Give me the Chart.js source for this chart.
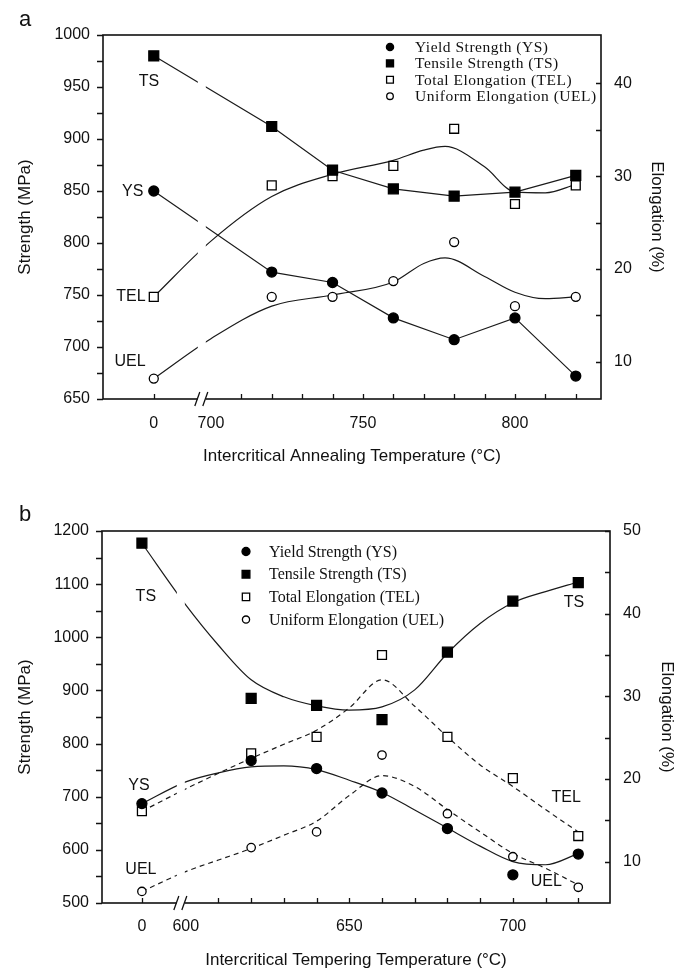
<!DOCTYPE html>
<html>
<head>
<meta charset="utf-8">
<script src="https://cdn.jsdelivr.net/npm/chart.js@4.4.1/dist/chart.umd.min.js"></script>
<style>
  body { margin: 0; background: #fff; }
  #wrap { position: relative; width: 683px; height: 971px; overflow: hidden; }
  canvas { position: absolute; left: 0; }
  #ca { top: 0; }
  #cb { top: 485px; }
</style>
</head>
<body>
<div id="wrap">
  <canvas id="ca" width="683" height="480"></canvas>
  <canvas id="cb" width="683" height="486"></canvas>
</div>
<script>
// (a) intercritical annealing -- temperature 0 is the starting state, drawn left of the axis break
var tempsA = [0, 720, 740, 760, 780, 800, 820];
var ysA  = [850, 772, 762, 728, 707, 728, 672];
var tsA  = [980, 912, 870, 852, 845, 849, 865];
var telA = [17.0, 29.0, 30.0, 31.1, 35.1, 27.0, 29.0];
var uelA = [8.2, 17.0, 17.0, 18.7, 22.9, 16.0, 17.0];
// smooth curves as drawn through the elongation data
var fitTempsA = [0, 700, 720, 740, 760, 770, 777, 790, 800, 810, 820];
var telFitA = [17.0, 23.0, 27.8, 30.2, 31.7, 32.8, 33.2, 31.0, 28.3, 28.2, 29.1];
var uelFitA = [8.2, 12.5, 16.0, 17.2, 18.6, 20.6, 21.2, 19.2, 17.5, 16.8, 17.0];

// (b) intercritical tempering
var tempsB = [0, 620, 640, 660, 680, 700, 720];
var ysB  = [687, 768, 753, 707, 640, 553, 592];
var tsB  = [1177, 885, 872, 845, 972, 1068, 1103];
var telB = [16.1, 23.1, 25.1, 35.0, 25.1, 20.1, 13.1];
var uelB = [6.4, 11.7, 13.6, 22.9, 15.8, 10.6, 6.9];
var fitTempsB = [0, 600, 610, 620, 630, 640, 650, 660, 670, 680, 690, 700, 710, 720];
var tsFitB  = [1177, 1061, 985, 920, 888, 871, 863, 869, 901, 970, 1026, 1065, 1086, 1104];
var ysFitB  = [687, 728, 745, 756, 758, 751, 731, 708, 675, 641, 607, 578, 572, 593];
var telFitB = [16.1, 18.8, 20.7, 22.5, 24.2, 25.9, 28.6, 32.0, 28.8, 25.1, 21.7, 19.1, 16.3, 13.6];
var uelFitB = [6.4, 8.8, 10.2, 11.6, 13.2, 14.9, 18.0, 20.4, 19.1, 16.3, 13.6, 11.0, 9.2, 7.2];

// tick labels
var xLabelsA = ['0', '700', '750', '800'];
var xLabelsB = ['0', '600', '650', '700'];

var SANS = '"Liberation Sans", Arial, sans-serif';
var SERIF = '"Liberation Serif", "Times New Roman", serif';
var INK = '#111';

Chart.defaults.font.family = SANS;
Chart.defaults.color = INK;

function place(t, zero) { return t === 0 ? zero : t; }
function pts(temps, vals, zero) {
  return temps.map(function (t, i) { return { x: place(t, zero), y: vals[i] }; });
}

function marks(label, data, axis, style, r, filled, legendR) {
  return {
    label: label, data: data, yAxisID: axis, showLine: false,
    pointStyle: style, pointRadius: r, pointHoverRadius: r,
    pointBackgroundColor: filled ? '#000' : '#fff', backgroundColor: filled ? '#000' : '#fff',
    pointBorderColor: '#000', borderColor: '#000', pointBorderWidth: 1.3,
    legendR: legendR, inLegend: true
  };
}
function curve(data, axis, smooth, dash) {
  return {
    data: data, yAxisID: axis, showLine: true, pointRadius: 0, pointHoverRadius: 0,
    borderColor: '#1a1a1a', borderWidth: 1.2, borderDash: dash || [],
    tension: 0, cubicInterpolationMode: smooth ? 'monotone' : 'default'
  };
}

function decor(cfg) {
  return {
    id: 'decor',
    afterDatasetsDraw: function (chart) {
      var ctx = chart.ctx, a = chart.chartArea;
      var xs = chart.scales.x, yl = chart.scales.y, yr = chart.scales.y2;
      ctx.save();
      ctx.strokeStyle = INK;
      ctx.lineWidth = 1.6;
      ctx.strokeRect(a.left, a.top, a.right - a.left, a.bottom - a.top);

      ctx.lineWidth = 1.3;
      ctx.beginPath();
      xs.ticks.forEach(function (t) {
        if (t.value === cfg.skipTick) return;
        var px = Math.round(xs.getPixelForValue(t.value)) + 0.5;
        ctx.moveTo(px, a.bottom); ctx.lineTo(px, a.bottom - 5);
      });
      yl.ticks.forEach(function (t) {
        var py = Math.round(yl.getPixelForValue(t.value)) + 0.5;
        ctx.moveTo(a.left, py); ctx.lineTo(a.left - 6, py);
      });
      yr.ticks.forEach(function (t) {
        var py = Math.round(yr.getPixelForValue(t.value)) + 0.5;
        ctx.moveTo(a.right, py); ctx.lineTo(a.right - 5, py);
      });
      ctx.stroke();

      // axis break
      var bx = xs.getPixelForValue(cfg.breakAt);
      ctx.fillStyle = '#fff';
      ctx.fillRect(bx - 4, a.top + 1.5, 8, a.bottom - a.top + 1);
      ctx.beginPath();
      ctx.moveTo(bx - 7, a.bottom + 7); ctx.lineTo(bx - 2, a.bottom - 7);
      ctx.moveTo(bx + 1, a.bottom + 7); ctx.lineTo(bx + 6, a.bottom - 7);
      ctx.stroke();

      // curve names
      ctx.fillStyle = INK;
      ctx.font = '16px ' + SANS;
      ctx.textAlign = 'center';
      ctx.textBaseline = 'middle';
      cfg.notes.forEach(function (n) {
        ctx.fillText(n.text, xs.getPixelForValue(n.x), yl.getPixelForValue(n.y));
      });

      // legend
      var L = cfg.legend, row = 0;
      ctx.font = L.size + 'px ' + SERIF;
      ctx.textAlign = 'left';
      if ('letterSpacing' in ctx) ctx.letterSpacing = L.spacing + 'px';
      chart.data.datasets.forEach(function (d) {
        if (!d.inLegend) return;
        var mx = a.left + L.dx, my = a.top + L.dy + row * L.gap;
        ctx.fillStyle = d.pointBackgroundColor;
        ctx.strokeStyle = '#000';
        ctx.lineWidth = 1.3;
        Chart.helpers.drawPoint(ctx, { pointStyle: d.pointStyle, radius: d.legendR, rotation: 0, borderWidth: 1.3 }, mx, my);
        ctx.fillStyle = INK;
        ctx.fillText(d.label, mx + L.textGap, my + 1);
        row++;
      });
      if ('letterSpacing' in ctx) ctx.letterSpacing = '0px';

      // panel letter
      ctx.font = '22px ' + SANS;
      ctx.textAlign = 'center';
      ctx.fillText(cfg.letter, cfg.letterX, cfg.letterY);
      ctx.restore();
    }
  };
}

function build(id, o) {
  var tickFont = { size: 16 };
  var titleFont = { size: 17 };
  return new Chart(document.getElementById(id), {
    type: 'scatter',
    data: { datasets: o.datasets },
    options: {
      responsive: false, animation: false, events: [], devicePixelRatio: 1,
      layout: { padding: { top: o.padTop, left: 0, right: 0, bottom: 0 } },
      plugins: { legend: { display: false }, tooltip: { enabled: false } },
      scales: {
        x: {
          type: 'linear', min: o.xMin, max: o.xMax,
          afterBuildTicks: function (s) { s.ticks = o.xTicks.map(function (v) { return { value: v }; }); },
          afterFit: function (s) { s.height = o.xHeight; },
          grid: { display: false, drawTicks: false }, border: { display: false },
          ticks: {
            autoSkip: false, maxRotation: 0, padding: o.xPad, font: tickFont, color: INK,
            callback: function (v) {
              if (v === o.zero) return o.xLabels[0];
              var s = String(v);
              return o.xLabels.indexOf(s) > 0 ? s : '';
            }
          },
          title: { display: true, text: o.xTitle, font: titleFont, color: INK, padding: { top: 0, bottom: o.xTitlePad } }
        },
        y: {
          position: 'left', min: o.yMin, max: o.yMax,
          afterBuildTicks: function (s) { s.ticks = o.yTicks.map(function (v) { return { value: v }; }); },
          afterFit: function (s) { s.width = o.leftW; },
          grid: { display: false, drawTicks: false }, border: { display: false },
          ticks: {
            padding: 13, font: tickFont, color: INK,
            callback: function (v) { return v % o.yLabelStep === 0 ? String(v) : ''; }
          },
          title: { display: true, text: 'Strength (MPa)', font: titleFont, color: INK, padding: { top: 15, bottom: 0 } }
        },
        y2: {
          position: 'right', min: o.y2Min, max: o.y2Max,
          afterBuildTicks: function (s) { s.ticks = o.y2Ticks.map(function (v) { return { value: v }; }); },
          afterFit: function (s) { s.width = o.rightW; },
          grid: { display: false, drawTicks: false }, border: { display: false },
          ticks: {
            padding: 13, font: tickFont, color: INK,
            callback: function (v) { return v % 10 === 0 ? String(v) : ''; }
          },
          title: { display: true, text: 'Elongation (%)', font: titleFont, color: INK, padding: { top: o.rightTitlePad, bottom: 0 } }
        }
      }
    },
    plugins: [decor(o.decor)]
  });
}

function range(a, b, step) {
  var out = [];
  for (var v = a; v <= b + 1e-9; v += step) out.push(Math.round(v * 100) / 100);
  return out;
}

// ---- panel a ----
var zeroA = 681.2;
build('ca', {
  datasets: [
    marks('Yield Strength (YS)', pts(tempsA, ysA, zeroA), 'y', 'circle', 5, true, 3.6),
    marks('Tensile Strength (TS)', pts(tempsA, tsA, zeroA), 'y', 'rect', 7, true, 5),
    marks('Total Elongation (TEL)', pts(tempsA, telA, zeroA), 'y2', 'rect', 6.3, false, 4.8),
    marks('Uniform Elongation (UEL)', pts(tempsA, uelA, zeroA), 'y2', 'circle', 4.5, false, 3.3),
    curve(pts(tempsA, ysA, zeroA), 'y', false),
    curve(pts(tempsA, tsA, zeroA), 'y', false),
    curve(pts(fitTempsA, telFitA, zeroA), 'y2', true),
    curve(pts(fitTempsA, uelFitA, zeroA), 'y2', true)
  ],
  padTop: 35, leftW: 103, rightW: 82, xHeight: 81,
  xMin: 664.5, xMax: 828.3, zero: zeroA,
  xTicks: [zeroA].concat(range(700, 820, 10)), xLabels: xLabelsA, xPad: 15,
  xTitle: 'Intercritical Annealing Temperature (°C)', xTitlePad: 13,
  yMin: 650, yMax: 1000, yTicks: range(650, 1000, 25), yLabelStep: 50,
  y2Min: 6, y2Max: 45.2, y2Ticks: range(10, 40, 5), rightTitlePad: 16,
  decor: {
    skipTick: 700, breakAt: 697,
    notes: [
      { text: 'TS', x: 679.6, y: 955 },
      { text: 'YS', x: 674.3, y: 849 },
      { text: 'TEL', x: 673.7, y: 748 },
      { text: 'UEL', x: 673.4, y: 686 }
    ],
    legend: { dx: 287, dy: 12, gap: 16.4, textGap: 25, size: 15.5, spacing: 0.5 },
    letter: 'a', letterX: 25, letterY: 20
  }
});

// ---- panel b ----
var zeroB = 586.6;
build('cb', {
  datasets: [
    marks('Yield Strength (YS)', pts(tempsB, ysB, zeroB), 'y', 'circle', 5, true, 4),
    marks('Tensile Strength (TS)', pts(tempsB, tsB, zeroB), 'y', 'rect', 7, true, 5.5),
    marks('Total Elongation (TEL)', pts(tempsB, telB, zeroB), 'y2', 'rect', 6.3, false, 5.2),
    marks('Uniform Elongation (UEL)', pts(tempsB, uelB, zeroB), 'y2', 'circle', 4.2, false, 3.6),
    curve(pts(fitTempsB, ysFitB, zeroB), 'y', true),
    curve(pts(fitTempsB, tsFitB, zeroB), 'y', true),
    curve(pts(fitTempsB, telFitB, zeroB), 'y2', true, [5, 4]),
    curve(pts(fitTempsB, uelFitB, zeroB), 'y2', true, [5, 4])
  ],
  padTop: 46, leftW: 102, rightW: 73, xHeight: 68,
  xMin: 574.4, xMax: 729.7, zero: zeroB,
  xTicks: [zeroB].concat(range(600, 720, 10)), xLabels: xLabelsB, xPad: 14,
  xTitle: 'Intercritical Tempering Temperature (°C)', xTitlePad: 0,
  yMin: 500, yMax: 1200, yTicks: range(500, 1200, 50), yLabelStep: 100,
  y2Min: 5, y2Max: 50, y2Ticks: range(10, 50, 5), rightTitlePad: 6,
  decor: {
    skipTick: 600, breakAt: 598.5,
    notes: [
      { text: 'TS', x: 587.8, y: 1076 },
      { text: 'YS', x: 585.7, y: 720 },
      { text: 'UEL', x: 586.3, y: 562 },
      { text: 'TS', x: 718.7, y: 1066 },
      { text: 'TEL', x: 716.3, y: 699 },
      { text: 'UEL', x: 710.2, y: 540 }
    ],
    legend: { dx: 144, dy: 20.5, gap: 22.7, textGap: 23, size: 16, spacing: 0 },
    letter: 'b', letterX: 25, letterY: 30
  }
});
</script>
</body>
</html>
